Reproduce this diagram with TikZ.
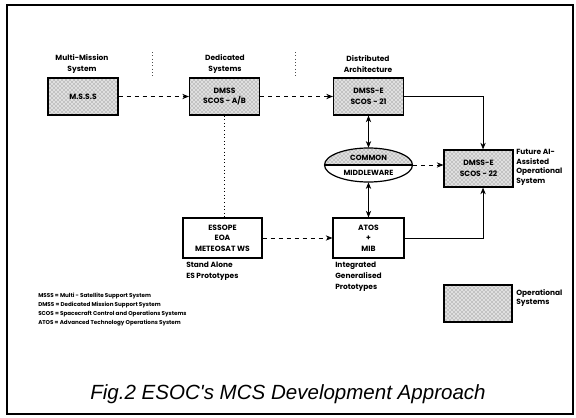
\documentclass[tikz,border=0pt]{standalone}
\usepackage{fontspec}
\setmainfont{Poppins}
\newfontfamily\capfont{Liberation Sans}
\usetikzlibrary{patterns,shapes.geometric,arrows.meta}

\begin{document}
\begin{tikzpicture}[x=0.75pt,y=0.75pt,yscale=-1,xscale=1,
  sysbox/.style={draw, line width=0.9pt, minimum width=52.5pt, minimum height=27.75pt, align=center, inner sep=0.75pt, font=\bfseries\fontsize{5.7}{8}\selectfont},
  shade/.style={preaction={fill=black!12}, pattern=crosshatch dots, pattern color=black!60},
  lbl/.style={inner sep=0.75pt, font=\bfseries\fontsize{5.6}{8}\selectfont},
  dasharr/.style={dashed, line width=0.6pt, -{Stealth[length=5pt,width=4pt]}},
  solarr/.style={line width=0.6pt, -{Stealth[length=5pt,width=4pt]}},
  dblarr/.style={line width=0.6pt, {Stealth[length=5pt,width=4pt]}-{Stealth[length=5pt,width=4pt]}}]
\useasboundingbox (0,0) rectangle (576,418);
% frame
\draw [line width=1.1pt] (7,5) rectangle (573,414) ;
% separators
\draw [dotted, line width=0.5pt, black!70] (152,52) -- (152,78) ;
\draw [dotted, line width=0.5pt, black!70] (295,52) -- (295,78) ;

% systems
\draw (83,96.5) node [sysbox, shade] (msss) {M.S.S.S};
\draw (224.5,96.5) node [sysbox, shade] (dmss) {DMSS\\SCOS - A/B};
\draw (368.5,96.5) node [sysbox, shade] (dmsse) {DMSS-E\\SCOS - 21};
\draw (478.5,168.5) node [sysbox, shade, minimum width=51.75pt] (future) {DMSS-E\\SCOS - 22};
\draw (222.5,238) node [sysbox, minimum width=59.25pt, minimum height=30pt] (essope) {ESSOPE\\EOA\\METEOSAT WS};
\draw (368.5,238) node [sysbox, minimum width=53.25pt, minimum height=30pt] (atos) {ATOS\\+\\MIB};
\draw (478,303.5) node [sysbox, shade, minimum width=51pt] (legend) {};

% middleware
\draw (368.5,165) node [ellipse, minimum width=66pt, minimum height=25.5pt, inner sep=0pt] (mw) {};
\begin{scope}
\clip (mw.west) rectangle (mw.north -| mw.east);
\fill [shade] (mw.center) ellipse [x radius=33pt, y radius=12.75pt];
\end{scope}
\draw [line width=0.9pt] (mw.center) ellipse [x radius=33pt, y radius=12.75pt];
\draw [line width=0.9pt] (mw.west) -- (mw.east) ;
\draw (368.5,157.5) node [lbl] (common) {COMMON};
\draw (368.5,173) node [lbl] (middle) {MIDDLEWARE};

% labels
\draw (82,64) node [lbl, align=center] (lmm) {Multi-Mission\\System};
\draw (225,64) node [lbl, align=center] (lded) {Dedicated\\Systems};
\draw (368,64) node [lbl, align=center] (ldist) {Distributed\\Architecture};
\draw (515,148) node [lbl, anchor=north west, align=left, font=\bfseries\fontsize{5.6}{7.2}\selectfont] (lfut) {Future AI-\\Assisted\\Operational\\System};
\draw (185,261) node [lbl, anchor=north west, align=left] (lsa) {Stand Alone\\ES Prototypes};
\draw (334,261) node [lbl, anchor=north west, align=left] (lint) {Integrated\\Generalised\\Prototypes};
\draw (515,288) node [lbl, anchor=north west, align=left, font=\bfseries\fontsize{5.6}{7.2}\selectfont] (lop) {Operational\\Systems};
\draw (37,292) node [lbl, anchor=north west, align=left, font=\bfseries\fontsize{4.2}{6.75}\selectfont] (abbr) {MSSS = Multi - Satellite Support System\\DMSS = Dedicated Mission Support System\\SCOS = Spacecraft Control and Operations Systems\\ATOS = Advanced Technology Operations System};
\draw (288,394) node [inner sep=0.75pt, font=\capfont\itshape\fontsize{15.4}{18}\selectfont] (title) {Fig.2 ESOC's MCS Development Approach};

% connectors
\draw [dasharr] (msss) -- (dmss) ;
\draw [dasharr] (dmss) -- (dmsse) ;
\draw [dotted, line width=0.7pt] (dmss.south) -- (dmss.south |- essope.north) ;
\draw [dasharr] (essope) -- (atos) ;
\draw [dblarr] (dmsse.south) -- (mw.north) ;
\draw [dblarr] (mw.south) -- (atos.north) ;
\draw [dasharr] (mw.east) -- (mw.east -| future.west) ;
\draw [solarr] (dmsse.east) -| ([xshift=3.4pt]future.north) ;
\draw [solarr] (atos.east) -| ([xshift=3.4pt]future.south) ;
\end{tikzpicture}
\end{document}
